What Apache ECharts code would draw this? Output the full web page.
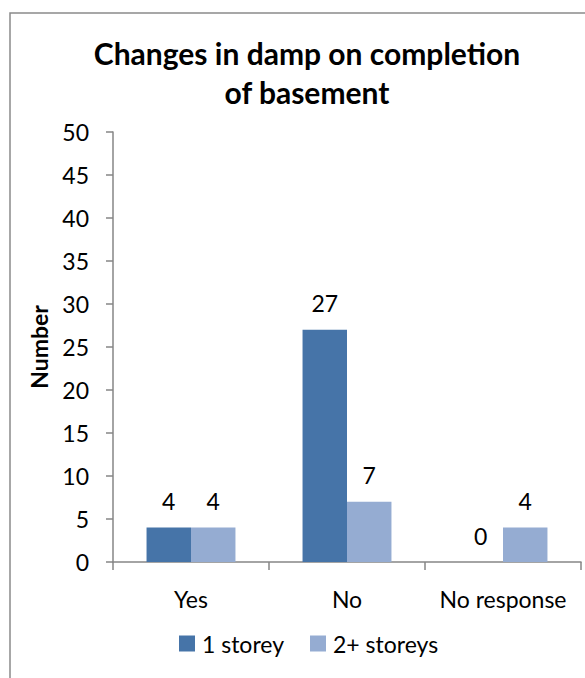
<!DOCTYPE html>
<html>
<head>
<meta charset="utf-8">
<script src="https://cdn.jsdelivr.net/npm/echarts@6/dist/echarts.min.js"></script>
<style>html,body{margin:0;padding:0;background:#fff}#c{width:585px;height:678px}</style>
</head>
<body>
<div id="c"></div>
<script>
var categories = ['Yes', 'No', 'No response'];
var oneStorey = [4, 27, 0];
var twoPlusStoreys = [4, 7, 4];
var seriesNames = ['1 storey', '2+ storeys'];
var titleText = 'Changes in damp on completion\nof basement';
var yAxisName = 'Number';

var FONT = 'Lato';
var chart = echarts.init(document.getElementById('c'), null, {renderer: 'svg'});
var labelStyle = {show: true, position: 'top', distance: 15, color: '#000', fontFamily: FONT, fontSize: 23};
chart.setOption({
  animation: false,
  backgroundColor: '#fff',
  graphic: [{
    type: 'rect', shape: {x: 10, y: 13, width: 700, height: 800},
    style: {fill: 'none', stroke: '#8a8a8a', lineWidth: 1.5}, z: -1
  }],
  title: {
    text: titleText, left: 302, top: 28, textAlign: 'center',
    textStyle: {fontFamily: FONT, fontWeight: 'bold', fontSize: 30, lineHeight: 39, color: '#000'}
  },
  legend: {
    data: seriesNames, left: 174, top: 627, icon: 'rect', itemWidth: 16, itemHeight: 16, itemGap: 26,
    textStyle: {fontFamily: FONT, fontSize: 23, color: '#000', padding: [0, 0, 0, 2]}
  },
  grid: {left: 113, right: 4, top: 132, bottom: 116},
  xAxis: {
    type: 'category', data: categories,
    axisLine: {lineStyle: {color: '#868686', width: 1.5}},
    axisTick: {show: true, length: 8, lineStyle: {color: '#868686', width: 1.5}},
    axisLabel: {color: '#000', fontFamily: FONT, fontSize: 23, margin: 25, interval: 0}
  },
  yAxis: {
    type: 'value', min: 0, max: 50, interval: 5,
    name: yAxisName, nameLocation: 'middle', nameGap: 63,
    nameTextStyle: {fontFamily: FONT, fontWeight: 'bold', fontSize: 23, color: '#000'},
    splitLine: {show: false},
    axisLine: {show: true, lineStyle: {color: '#868686', width: 1.5}},
    axisTick: {show: true, length: 7, lineStyle: {color: '#868686', width: 1.5}},
    axisLabel: {color: '#000', fontFamily: FONT, fontSize: 23, margin: 24}
  },
  series: [
    {name: seriesNames[0], type: 'bar', data: oneStorey, barGap: '0%', barCategoryGap: '43%',
     itemStyle: {color: '#4674A8'}, label: labelStyle},
    {name: seriesNames[1], type: 'bar', data: twoPlusStoreys, barGap: '0%', barCategoryGap: '43%',
     itemStyle: {color: '#95ACD2'}, label: labelStyle}
  ]
});
</script>
</body>
</html>
